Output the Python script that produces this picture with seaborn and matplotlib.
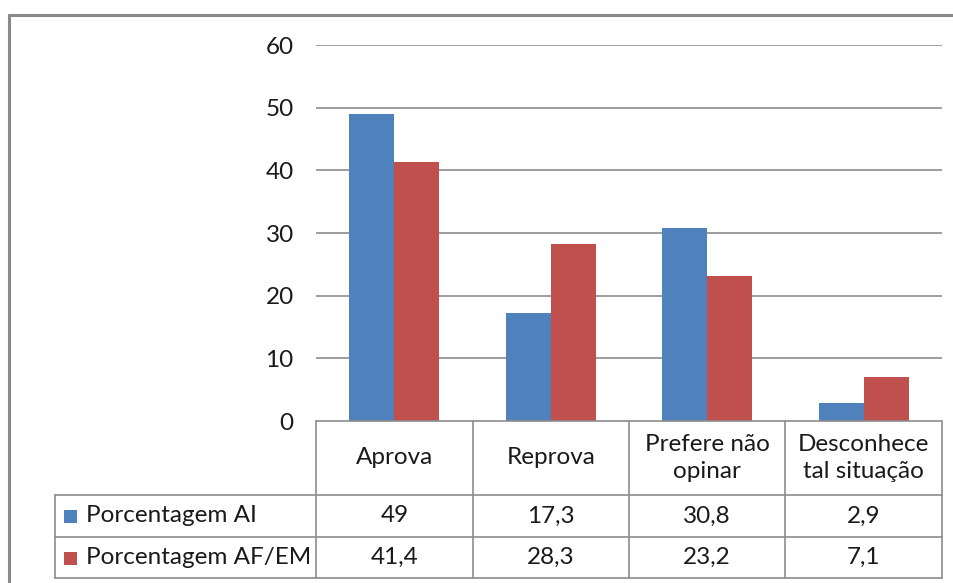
import matplotlib
matplotlib.use("Agg")
import matplotlib.pyplot as plt
from matplotlib.lines import Line2D
from matplotlib.patches import Rectangle
import seaborn as sns
import pandas as pd

categories = ["Aprova", "Reprova", "Prefere não\nopinar", "Desconhece\ntal situação"]
series_names = ["Porcentagem AI", "Porcentagem AF/EM"]
values_ai = [49, 17.3, 30.8, 2.9]
values_afem = [41.4, 28.3, 23.2, 7.1]
yticks = [0, 10, 20, 30, 40, 50, 60]
colors = ["#4F81BD", "#C0504D"]

def fmt(v):
    s = f"{v:g}"
    return s.replace(".", ",")

df = pd.DataFrame({
    "categoria": categories * 2,
    "serie": [series_names[0]] * 4 + [series_names[1]] * 4,
    "valor": values_ai + values_afem,
})

sns.set_theme(style="white")
plt.rcParams["font.family"] = ["Lato", "DejaVu Sans"]
FS = 17.5
GRID = "#8C8C8C"

W, H = 954, 583
fig = plt.figure(figsize=(W / 100, H / 100), dpi=100)
fig.patch.set_facecolor("white")

def fx(px):
    return px / W

def fy(py):
    return 1 - py / H

x0, x1, ytop, ybot = 316, 942, 45, 421
ax = fig.add_axes([fx(x0), fy(ybot), fx(x1) - fx(x0), fy(ytop) - fy(ybot)])

sns.barplot(data=df, x="categoria", y="valor", hue="serie", order=categories,
            hue_order=series_names, palette=colors, width=0.575, gap=0,
            saturation=1, ax=ax, legend=False, linewidth=0)

ax.set_xlim(-0.5, len(categories) - 0.5)
ax.set_ylim(0, 60)
ax.set_yticks(yticks)
ax.set_yticklabels([str(t) for t in yticks], fontsize=FS, color="#1a1a1a")
ax.set_xticks([])
ax.set_xlabel("")
ax.set_ylabel("")
ax.tick_params(axis="y", length=0, pad=16)
for s in ax.spines.values():
    s.set_visible(False)
for t in yticks[1:]:
    ax.axhline(t, color=GRID, lw=1.2, zorder=0)
ax.set_axisbelow(True)

# outer chart frame
fig.add_artist(Line2D([fx(9), 1.0], [fy(15), fy(15)], color="#8A8A8A", lw=2.2))
fig.add_artist(Line2D([fx(9), fx(9)], [fy(15), 0], color="#8A8A8A", lw=2.2))

# data table below the plot
cols = [316, 473, 629, 785, 942]
rows = [421, 495, 537, 578]
lw = 1.2
fig.add_artist(Line2D([fx(316), fx(942)], [fy(421), fy(421)], color=GRID, lw=lw))
for r in rows[1:]:
    fig.add_artist(Line2D([fx(55), fx(942)], [fy(r), fy(r)], color=GRID, lw=lw))
for c in cols:
    fig.add_artist(Line2D([fx(c), fx(c)], [fy(421), fy(578)], color=GRID, lw=lw))
fig.add_artist(Line2D([fx(55), fx(55)], [fy(495), fy(578)], color=GRID, lw=lw))

for i, cat in enumerate(categories):
    cx = (cols[i] + cols[i + 1]) / 2
    fig.text(fx(cx), fy(458), cat, ha="center", va="center", fontsize=FS,
             color="#1a1a1a", linespacing=1.4)

for j, (name, vals) in enumerate(zip(series_names, [values_ai, values_afem])):
    cy = (rows[j + 1] + rows[j + 2]) / 2
    fig.add_artist(Rectangle((fx(64), fy(cy + 7)), fx(13), 13 / H,
                             facecolor=colors[j], edgecolor="none"))
    fig.text(fx(86), fy(cy), name, ha="left", va="center", fontsize=FS, color="#1a1a1a")
    for i, v in enumerate(vals):
        cx = (cols[i] + cols[i + 1]) / 2
        fig.text(fx(cx), fy(cy), fmt(v), ha="center", va="center", fontsize=FS,
                 color="#1a1a1a")

fig.savefig("out.png", dpi=100)
